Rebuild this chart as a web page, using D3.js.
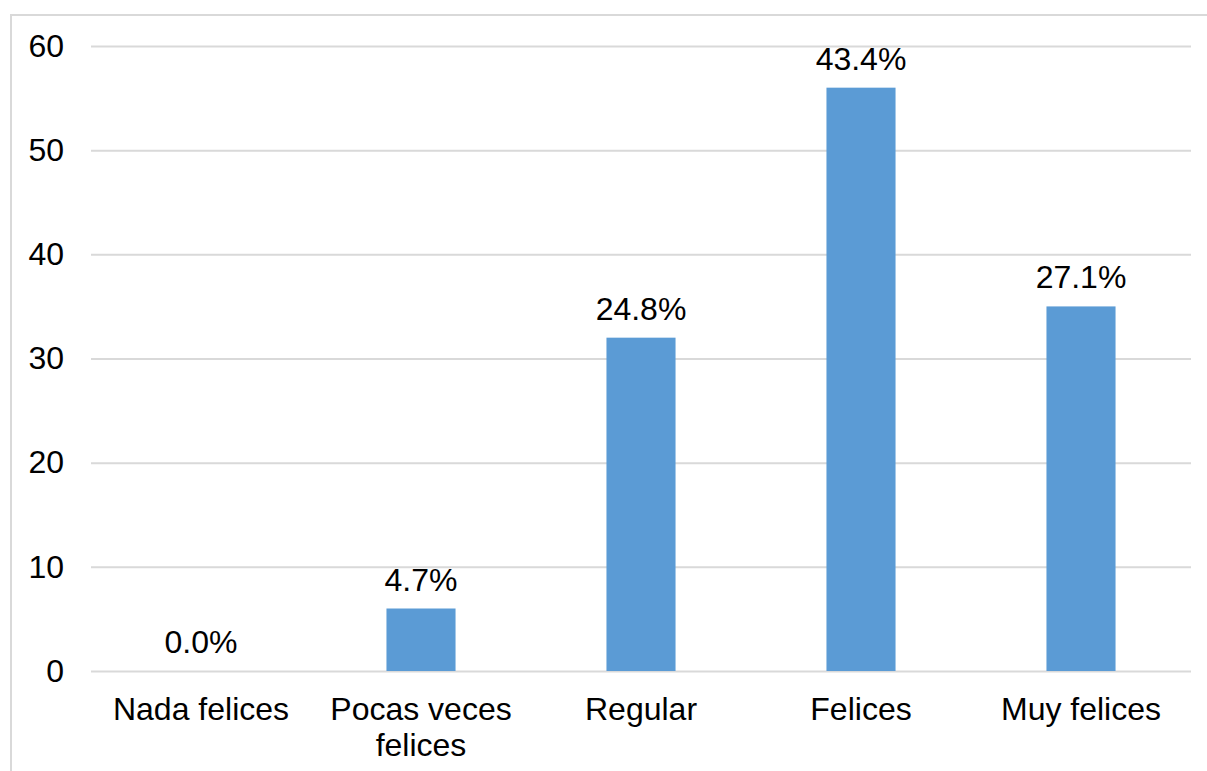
<!DOCTYPE html>
<html><head><meta charset="utf-8">
<script src="https://cdn.jsdelivr.net/npm/d3@7"></script>
<style>body{margin:0;background:#fff}svg{display:block}</style>
</head><body>
<svg id="c" width="1207" height="771"></svg>
<script>
const categories = [["Nada felices"], ["Pocas veces", "felices"], ["Regular"], ["Felices"], ["Muy felices"]];
const values = [0, 6, 32, 56, 35];
const labels = ["0.0%", "4.7%", "24.8%", "43.4%", "27.1%"];
const yTicks = [0, 10, 20, 30, 40, 50, 60];

const svg = d3.select("#c");
const font = "'Liberation Sans', Arial, sans-serif";
const FS = 32;
const L = 91, R = 1191, T = 46, B = 671;

svg.append("rect").attr("x", 11).attr("y", 15).attr("width", 1220).attr("height", 800)
  .attr("fill", "#fff").attr("stroke", "#d9d9d9").attr("stroke-width", 2);

const x = d3.scaleBand().domain(d3.range(values.length)).range([L, R])
  .paddingInner(0.686).paddingOuter(0.343);
const y = d3.scaleLinear().domain([0, 60]).range([B, T]);

const yAxis = svg.append("g").attr("transform", `translate(${L},0)`)
  .call(d3.axisLeft(y).tickValues(yTicks).tickSize(-(R - L)).tickPadding(27));
yAxis.select(".domain").remove();
yAxis.selectAll(".tick line").attr("stroke", "#d9d9d9").attr("stroke-width", 2);
yAxis.selectAll(".tick text").attr("font-family", font).attr("font-size", FS).attr("fill", "#000");

svg.append("g").selectAll("rect").data(values).join("rect")
  .attr("x", (d, i) => x(i)).attr("width", x.bandwidth())
  .attr("y", d => y(d)).attr("height", d => y(0) - y(d))
  .attr("fill", "#5b9bd5");

svg.append("g").selectAll("text").data(values).join("text")
  .attr("x", (d, i) => x(i) + x.bandwidth() / 2)
  .attr("y", d => y(d) - 18)
  .attr("text-anchor", "middle").attr("font-family", font).attr("font-size", FS).attr("fill", "#000")
  .text((d, i) => labels[i]);

const xl = svg.append("g").selectAll("text").data(categories).join("text")
  .attr("text-anchor", "middle").attr("font-family", font).attr("font-size", FS).attr("fill", "#000");
xl.each(function(lines, i) {
  const t = d3.select(this);
  lines.forEach((s, j) => {
    t.append("tspan").attr("x", x(i) + x.bandwidth() / 2).attr("y", 720 + j * 36).text(s);
  });
});
</script>
</body></html>
